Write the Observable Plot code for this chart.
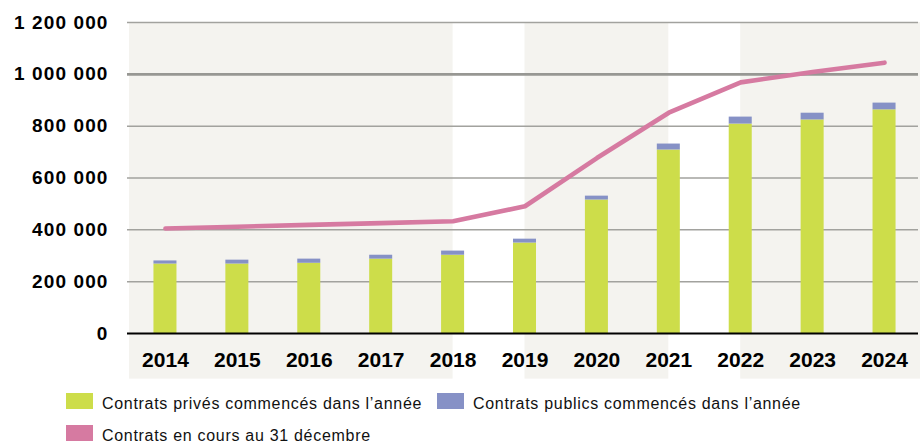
<!DOCTYPE html>
<html><head><meta charset="utf-8">
<script src="https://cdn.jsdelivr.net/npm/d3@7"></script>
<script src="https://cdn.jsdelivr.net/npm/@observablehq/plot@0.6"></script>
<style>
body{margin:0;background:#fff;font-family:"Liberation Sans",Arial,sans-serif;}
#chart{width:922px;position:relative;}
.legend{position:relative;height:57px;font-size:16px;letter-spacing:0.7px;color:#111;}
.item{position:absolute;display:flex;align-items:center;white-space:nowrap;}
.sw{width:27px;height:16px;margin-right:9px;flex:none;}
.item span.t{position:relative;top:2.5px;line-height:12px;}
</style></head><body><div id="chart"></div>
<script>
// ---- data ----
const years = [2014, 2015, 2016, 2017, 2018, 2019, 2020, 2021, 2022, 2023, 2024];
const prives = [268000, 268000, 271000, 287000, 302000, 349000, 515000, 708000, 808000, 824000, 863000];
const publics = [12000, 15000, 16000, 15000, 16000, 15000, 15000, 23000, 27000, 26000, 26000];
const enCours = [405000, 412000, 419000, 426000, 433000, 491000, 677000, 852000, 969000, 1009000, 1045000];
const yTicks = [0, 200000, 400000, 600000, 800000, 1000000, 1200000];
const shadedFrom = [2013.5, 2019, 2022];
const shadedTo = [2018, 2021, 2024.5];
const seriesNames = ["Contrats privés commencés dans l’année", "Contrats publics commencés dans l’année", "Contrats en cours au 31 décembre"];
const colors = ["#cddd4a", "#8691c6", "#d67aa1"];

// ---- tables ----
const rows = years.map((y, i) => ({year: y, prive: prives[i], total: prives[i] + publics[i], enCours: enCours[i]}));
const shades = shadedFrom.map((f, i) => ({from: f, to: shadedTo[i]}));
const fmt = d3.formatLocale({thousands: "\u00a0", grouping: [3], decimal: ","}).format(",");
const half = 0.16;

const plot = Plot.plot({
  width: 922, height: 385,
  marginLeft: 129, marginRight: 2, marginTop: 22, marginBottom: 52,
  x: {domain: [2013.5, 2024.5]},
  y: {domain: [0, 1200000]},
  style: {fontFamily: "'Liberation Sans', Arial, sans-serif", color: "#000", background: "transparent"},
  marks: [
    Plot.rect(shades, {x1: "from", x2: "to", y1: () => -176000, y2: () => 1200000, fill: "#f4f3ef"}),
    Plot.ruleY(yTicks.filter(t => t !== 0 && t !== 1000000), {stroke: "#a2a29e", strokeWidth: 1.5, insetLeft: -2, insetRight: 2}),
    Plot.ruleY([1000000], {stroke: "#979793", strokeWidth: 2.6, insetLeft: -2, insetRight: 2}),
    Plot.rect(rows, {x1: d => d.year - half, x2: d => d.year + half, y1: () => 0, y2: "prive", fill: colors[0]}),
    Plot.rect(rows, {x1: d => d.year - half, x2: d => d.year + half, y1: "prive", y2: "total", fill: colors[1]}),
    Plot.ruleY([0], {stroke: "#000", strokeWidth: 2, insetLeft: -2, insetRight: 2}),
    Plot.line(rows, {x: "year", y: "enCours", stroke: colors[2], strokeWidth: 4.6, strokeLinecap: "round", strokeLinejoin: "round"}),
    Plot.axisX(years, {tickSize: 0, tickPadding: 19, tickFormat: d => String(d), fontSize: 21, fontWeight: "bold"}),
    Plot.axisY(yTicks, {tickSize: 0, tickPadding: 21, tickFormat: fmt, fontSize: 19, fontWeight: "bold"})
  ]
});
plot.querySelectorAll('g[aria-label="y-axis tick label"] text').forEach(t => t.style.letterSpacing = "1.1px");
document.getElementById("chart").appendChild(plot);

// ---- legend ----
const legend = document.createElement("div");
legend.className = "legend";
const pos = [[66, 8], [437, 8], [66, 40]];
seriesNames.forEach((name, i) => {
  const it = document.createElement("div");
  it.className = "item";
  it.style.left = pos[i][0] + "px";
  it.style.top = pos[i][1] + "px";
  const sw = document.createElement("span");
  sw.className = "sw"; sw.style.background = colors[i];
  const tx = document.createElement("span");
  tx.className = "t"; tx.textContent = name;
  it.appendChild(sw); it.appendChild(tx);
  legend.appendChild(it);
});
document.getElementById("chart").appendChild(legend);
</script></body></html>
